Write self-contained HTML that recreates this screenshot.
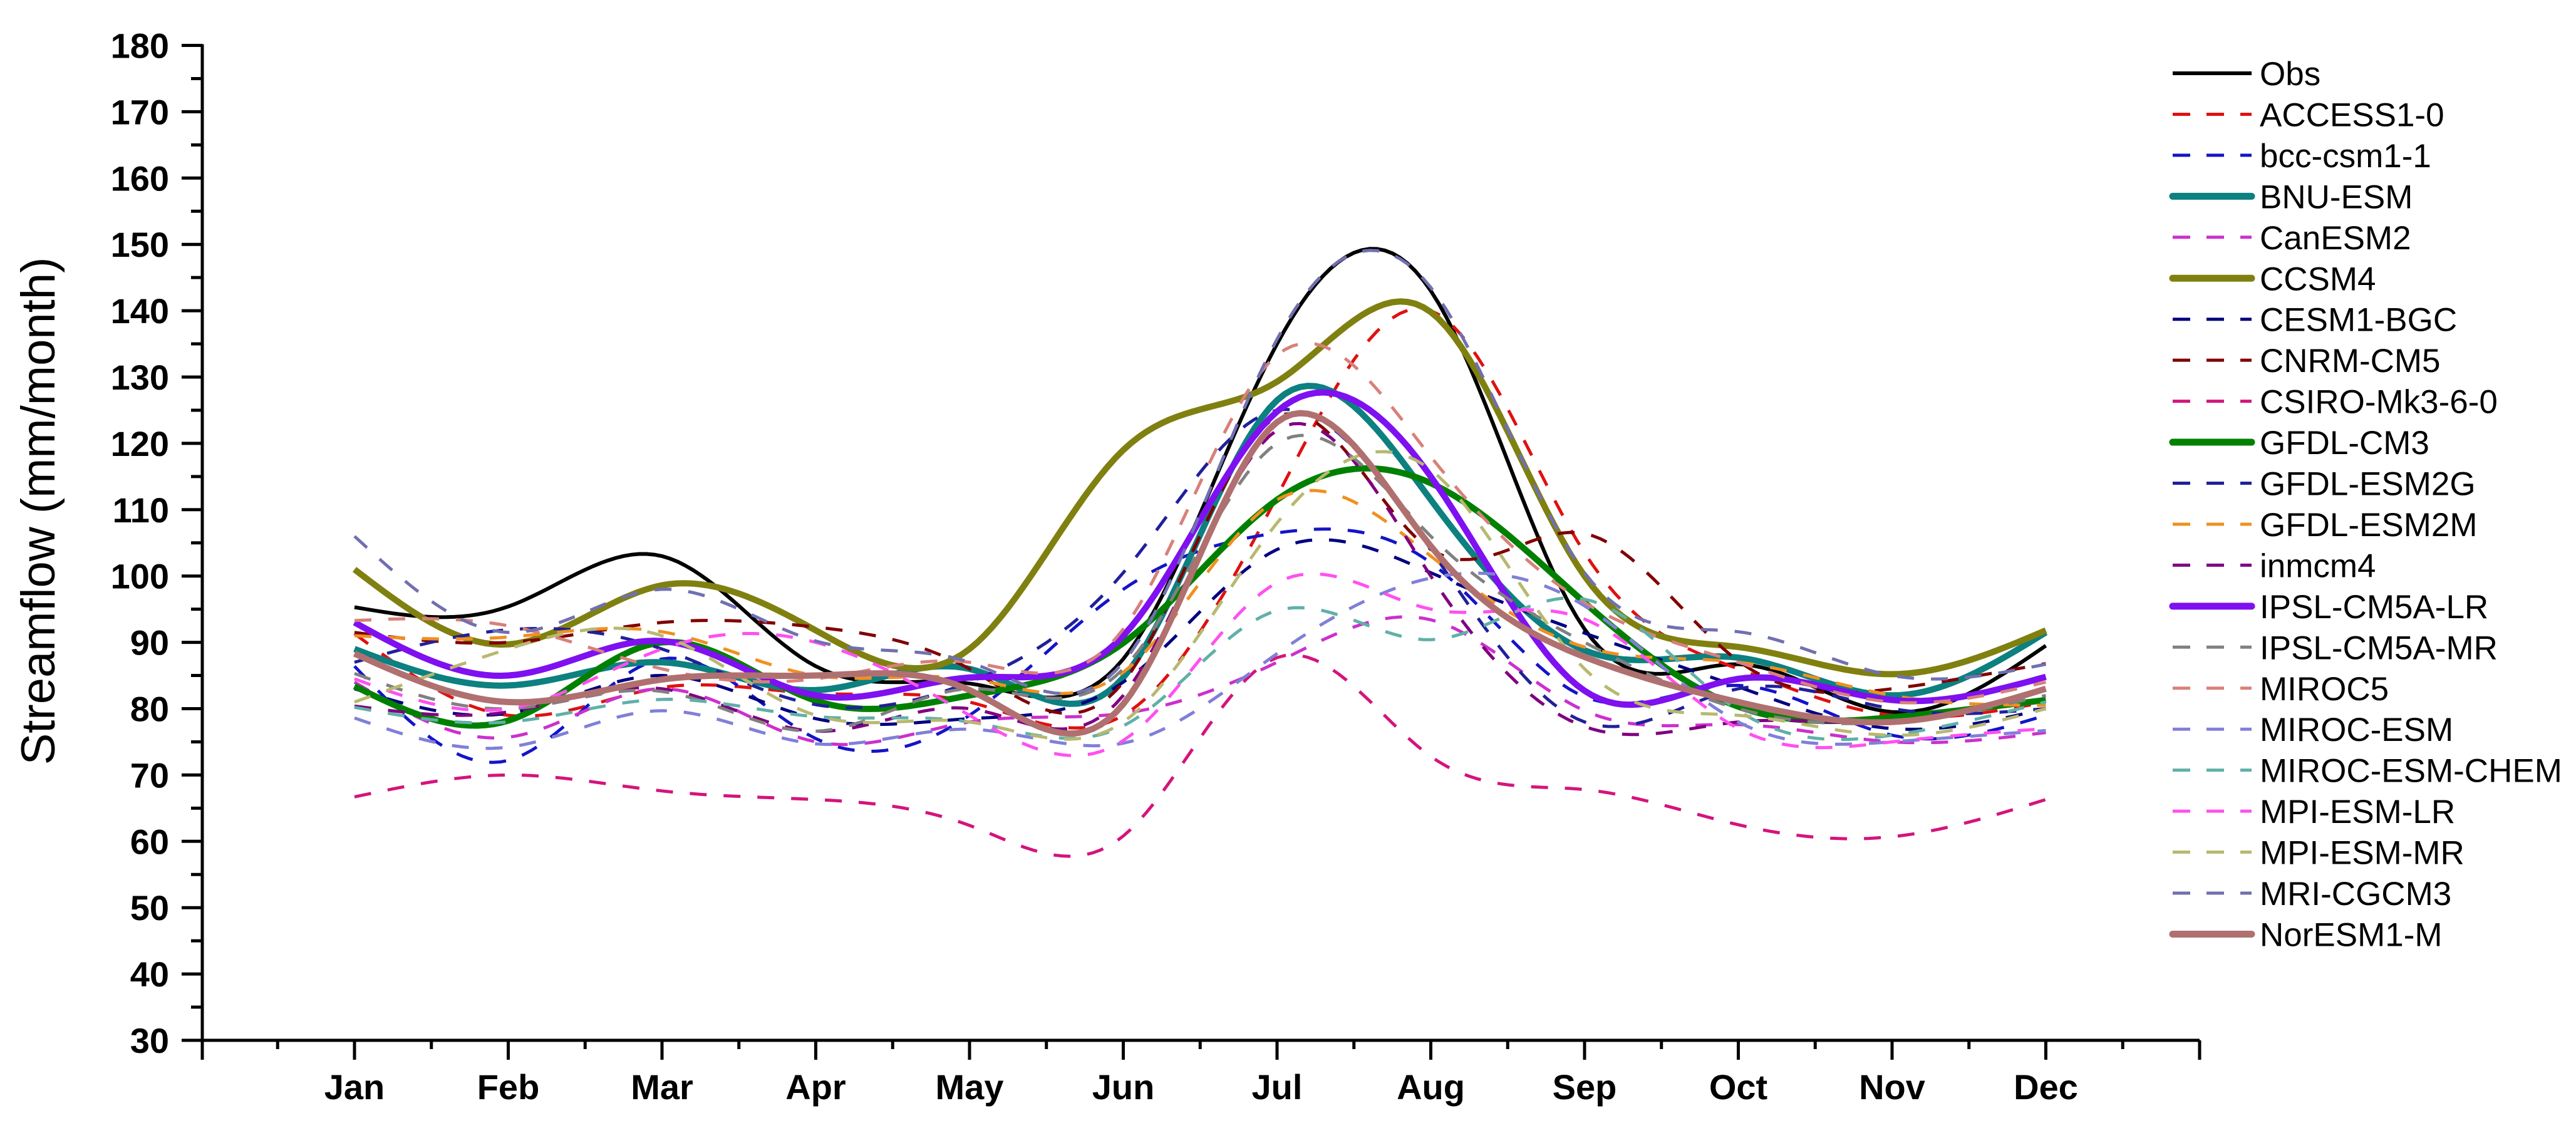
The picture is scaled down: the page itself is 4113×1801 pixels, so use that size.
<!DOCTYPE html>
<html lang="en">
<head>
<meta charset="utf-8">
<title>Monthly streamflow chart</title>
<style>
html,body{margin:0;padding:0;background:#fff;}
svg{display:block;font-family:"Liberation Sans",Arial,sans-serif;}
</style>
</head>
<body>
<svg id="chart" width="4113" height="1801" viewBox="0 0 4113 1801" xmlns="http://www.w3.org/2000/svg">
  <rect x="0" y="0" width="4113" height="1801" fill="#ffffff"/>
  <g id="series-layer"></g>
  <g id="axis-layer"></g>
  <text transform="translate(87 816) rotate(-90)" text-anchor="middle" font-size="76" fill="#000">Streamflow (mm/month)</text>
  <g id="legend-layer"></g>
</svg>
<script>
const months = ['Jan','Feb','Mar','Apr','May','Jun','Jul','Aug','Sep','Oct','Nov','Dec'];
const yTicks = [30,40,50,60,70,80,90,100,110,120,130,140,150,160,170,180];
const seriesNames = ['Obs','ACCESS1-0','bcc-csm1-1','BNU-ESM','CanESM2','CCSM4','CESM1-BGC','CNRM-CM5','CSIRO-Mk3-6-0','GFDL-CM3','GFDL-ESM2G','GFDL-ESM2M','inmcm4','IPSL-CM5A-LR','IPSL-CM5A-MR','MIROC5','MIROC-ESM','MIROC-ESM-CHEM','MPI-ESM-LR','MPI-ESM-MR','MRI-CGCM3','NorESM1-M'];

const obs      = [95.3,95.4,103,86.4,83.8,87.5,135,143,92,86.7,79.5,89.5];
const access   = [91.3,79,83.2,82.3,81,79,112,140,103.5,86,79,81];
const bcc      = [86.4,72.2,87.5,75.5,79,98,106.5,102,81.8,83.5,76,79];
const bnu      = [89,83.5,87,82.8,86,84.7,126.5,111.5,88.8,87.7,82,91.5];
const canesm   = [84,75.7,83,75,78,79.3,87,93.4,79.7,77.6,75,76.4];
const ccsm4    = [101,89.7,98.6,91.8,89,119,129.3,139.8,100,89.3,85.2,91.8];
const cesm     = [83,79.3,85,78.5,78.5,84,104,100.5,91.4,83.3,77,80];
const cnrm     = [91.5,90,93,92.3,86,84,124,104,106.4,87.2,83,86.8];
const csiro    = [66.7,70,67.6,66.3,62.4,60.8,87.7,72.8,67.8,62.5,60.7,66.3];
const gfdlCm3  = [83.4,78.2,90,81.2,82,89.9,111.5,114,96,80.3,78.7,81.3];
const esm2g    = [87,91.9,89,80.6,84,100.5,125,104,78,83,80,80];
const esm2m    = [91,90.8,91.6,85,84.5,85.5,111.5,103,89.3,87,82,80.5];
const inmcm4   = [80.4,79.5,83,76.6,80,82,122,100,77.3,78,78,83];
const ipslLr   = [93,85,90.2,82,84.7,91,124.8,115,82.7,84.5,81.3,84.8];
const ipslMr   = [85.3,80,82.6,76.6,83,86,120,106,90,80,78,82];
const miroc5   = [93.3,92.5,86,84.5,87,92,133.3,118,96,87,81,84];
const mirocEsm = [78.6,74.2,79.7,74.7,76.9,74.8,88.3,99.7,95.5,78,75,76.7];
const mirocChem= [80.2,78,81.4,78.8,78,77.4,94.8,90.4,96.5,79.7,76,81];
const mpiLr    = [84.5,80,89,90,79,75.2,99,95,93.5,77,75,77];
const mpiMr    = [81,89,91,79,78,78,108,116,86,79,76,80];
const mri      = [106,91.5,98,90.2,87,87,135.7,143.5,100.5,91.6,85,86.7];
const noresm   = [88.3,81,84.4,85,82.8,80.7,123.2,104.5,87.8,81,78,83];

const seriesValues = [obs,access,bcc,bnu,canesm,ccsm4,cesm,cnrm,csiro,gfdlCm3,esm2g,esm2m,inmcm4,ipslLr,ipslMr,miroc5,mirocEsm,mirocChem,mpiLr,mpiMr,mri,noresm];
const seriesColors = ['#000000','#e01010','#1414c8','#0d8080','#cc30cc','#808010','#000080','#800000','#d4147c','#008000','#20209a','#f09020','#800080','#7f10f0','#808080','#d8807a','#8080d8','#60b0a8','#ff50f0','#b8b870','#7070b0','#b07070'];
const seriesStyles = ['obs','dash','dash','thick','dash','thick','dash','dash','dash','thick','dash','dash','dash','thick','dash','dash','dash','dash','dash','dash','dash','thick'];

const NS = 'http://www.w3.org/2000/svg';
const X0 = 566, XSTEP = 245.5, Y30 = 1661, YUNIT = 10.59;
function xScale(m){ return X0 + XSTEP * m; }
function yScale(v){ return Y30 - (v - 30) * YUNIT; }
function strokeWidth(style){ return style === 'thick' ? 10 : (style === 'obs' ? 6 : 5); }
function slug(s){ return s.toLowerCase().replace(/[^a-z0-9]+/g,'-'); }

/* natural cubic spline through the monthly values */
function spline(vals){
  const n = vals.length, a = new Array(n).fill(0), b = new Array(n).fill(0), c = new Array(n).fill(0), d = new Array(n).fill(0);
  b[0] = 1; b[n-1] = 1;
  for (let i = 1; i < n-1; i++){ a[i] = 1; b[i] = 4; c[i] = 1; d[i] = 6*(vals[i+1]-2*vals[i]+vals[i-1]); }
  for (let i = 1; i < n; i++){ const w = a[i]/b[i-1]; b[i] -= w*c[i-1]; d[i] -= w*d[i-1]; }
  const M = new Array(n).fill(0);
  M[n-1] = d[n-1]/b[n-1];
  for (let i = n-2; i >= 0; i--){ M[i] = (d[i]-c[i]*M[i+1])/b[i]; }
  return function(t){
    const i = Math.min(n-2, Math.floor(t)), u = t-i, w = 1-u;
    return w*vals[i] + u*vals[i+1] + ((w*w*w-w)*M[i] + (u*u*u-u)*M[i+1])/6;
  };
}
function curvePath(vals){
  const f = spline(vals), last = vals.length-1;
  let p = '';
  for (let k = 0; k <= last*20; k++){
    const t = k/20;
    p += (k ? 'L' : 'M') + xScale(t).toFixed(1) + ' ' + yScale(f(t)).toFixed(1);
  }
  return p;
}

const seriesLayer = document.getElementById('series-layer');
seriesValues.forEach(function(vals, i){
  const el = document.createElementNS(NS,'path');
  
  
  el.setAttribute('d', curvePath(vals));
  el.setAttribute('fill', 'none');
  el.setAttribute('stroke', seriesColors[i]);
  el.setAttribute('stroke-width', strokeWidth(seriesStyles[i]));
  el.setAttribute('stroke-linejoin', 'round');
  if (seriesStyles[i] === 'dash') el.setAttribute('stroke-dasharray', '27 27');
  seriesLayer.appendChild(el);
});

const axisLayer = document.getElementById('axis-layer');
function axisLine(x1,y1,x2,y2,w,name){
  const el = document.createElementNS(NS,'line');
  
  
  el.setAttribute('x1', x1); el.setAttribute('y1', y1);
  el.setAttribute('x2', x2); el.setAttribute('y2', y2);
  el.setAttribute('stroke', '#000');
  el.setAttribute('stroke-width', w);
  axisLayer.appendChild(el);
}
function axisText(x,y,str,anchor,name){
  const el = document.createElementNS(NS,'text');
  
  
  el.setAttribute('x', x); el.setAttribute('y', y);
  el.setAttribute('text-anchor', anchor);
  el.setAttribute('font-size', '56');
  el.setAttribute('font-weight', 'bold');
  el.setAttribute('fill', '#000');
  el.textContent = str;
  axisLayer.appendChild(el);
}
const AX = 323, AXR = xScale(12);
axisLine(AX, yScale(180)-2, AX, 1692, 5, 'y-axis-line');
axisLine(290, Y30, AXR, Y30, 5, 'x-axis-line');
yTicks.forEach(function(v, i){
  axisLine(290, yScale(v), AX, yScale(v), 5, 'y-tick-' + v);
  axisText(270, yScale(v)+20, String(v), 'end', 'y-tick-label-' + v);
  if (i < yTicks.length-1){
    const mv = (v + yTicks[i+1]) / 2;
    axisLine(305, yScale(mv), AX, yScale(mv), 5, 'y-minor-tick-' + mv);
  }
});
months.forEach(function(m, i){
  axisLine(xScale(i), Y30, xScale(i), 1692, 5, 'x-tick-' + slug(m));
  axisText(xScale(i), 1755, m, 'middle', 'x-tick-label-' + slug(m));
});
for (let h = -0.5; h < 12; h += 1){
  axisLine(xScale(h), Y30, xScale(h), 1675, 5, 'x-minor-tick');
}
axisLine(xScale(12), Y30, xScale(12), 1692, 5, 'x-tick-end');

const legendLayer = document.getElementById('legend-layer');
seriesNames.forEach(function(name, i){
  const ly = 117 + 65.45 * i;
  const line = document.createElementNS(NS,'line');
  
  
  line.setAttribute('x1', 3469); line.setAttribute('x2', 3595);
  line.setAttribute('y1', ly); line.setAttribute('y2', ly);
  line.setAttribute('stroke', seriesColors[i]);
  line.setAttribute('stroke-width', seriesStyles[i] === 'thick' ? 11 : (seriesStyles[i] === 'obs' ? 6 : 5));
  if (seriesStyles[i] === 'dash') line.setAttribute('stroke-dasharray', '28 26');
  if (seriesStyles[i] === 'thick') line.setAttribute('stroke-linecap', 'round');
  legendLayer.appendChild(line);
  const t = document.createElementNS(NS,'text');
  
  
  t.setAttribute('x', 3608);
  t.setAttribute('y', ly + 19);
  t.setAttribute('font-size', '53');
  t.setAttribute('fill', '#000');
  t.textContent = name;
  legendLayer.appendChild(t);
});
</script>
</body>
</html>
